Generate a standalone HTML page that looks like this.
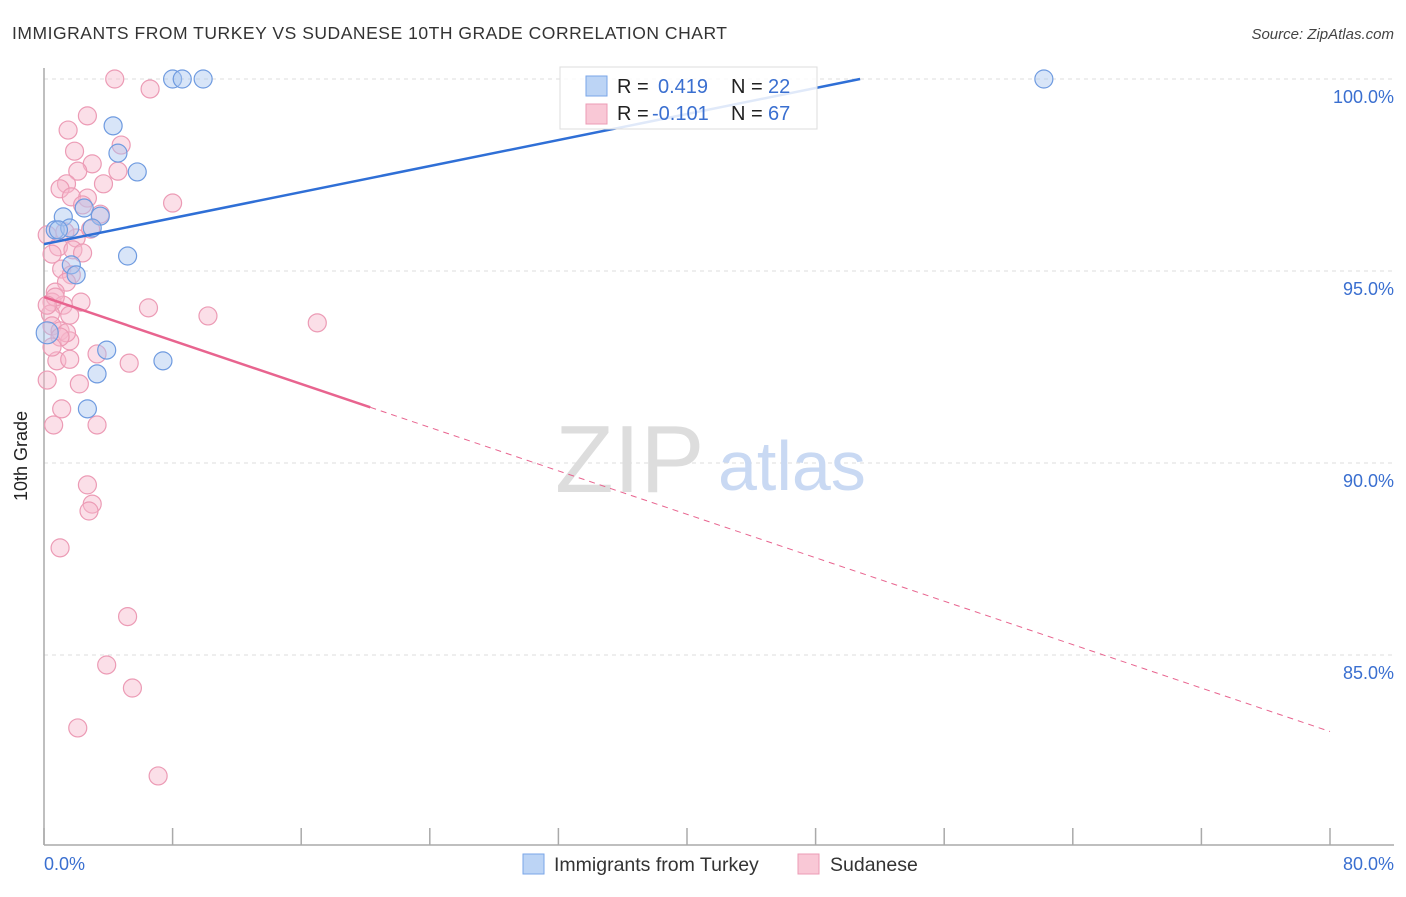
<!DOCTYPE html>
<html><head><meta charset="utf-8"><style>
body{margin:0;background:#fff;font-family:"Liberation Sans",sans-serif}
svg text{font-family:"Liberation Sans",sans-serif}
</style></head><body>
<svg width="1406" height="892" xmlns="http://www.w3.org/2000/svg">
<text x="12" y="39" font-size="17.5" fill="#333" textLength="715">IMMIGRANTS FROM TURKEY VS SUDANESE 10TH GRADE CORRELATION CHART</text>
<text x="1394" y="39" font-size="15" fill="#444" font-style="italic" text-anchor="end">Source: ZipAtlas.com</text>
<g id="grid"></g>
<line x1="44" y1="68" x2="44" y2="845" stroke="#aaa" stroke-width="1.5"/>
<line x1="44" y1="845" x2="1394" y2="845" stroke="#aaa" stroke-width="1.5"/>
<g id="xticks"></g>
<text x="27" y="456" font-size="18" fill="#222" text-anchor="middle" transform="rotate(-90 27 456)">10th Grade</text>
<text x="44" y="870" font-size="18" fill="#3a6fd0">0.0%</text>
<text x="1394" y="870" font-size="18" fill="#3a6fd0" text-anchor="end">80.0%</text>
<text x="555" y="492" font-size="96" fill="#ddd" font-family="Liberation Serif">ZIP</text>
<text x="718" y="490" font-size="70" fill="#c9d9f3">atlas</text>
<g id="pts"></g>
<g id="lines"></g>
<g>
<rect x="560" y="67" width="257" height="62" fill="#fff" fill-opacity="0.85" stroke="#ddd"/>
<rect x="586" y="76" width="21" height="20" fill="#bcd4f5" stroke="#7aa6e8"/>
<rect x="586" y="104" width="21" height="20" fill="#f9c8d6" stroke="#ec9bb5"/>
<text x="617" y="93" font-size="20" fill="#222">R = </text><text x="658" y="93" font-size="20" fill="#3a6fd0">0.419</text>
<text x="731" y="93" font-size="20" fill="#222">N = </text><text x="768" y="93" font-size="20" fill="#3a6fd0">22</text>
<text x="617" y="120" font-size="20" fill="#222">R = </text><text x="652" y="120" font-size="20" fill="#3a6fd0">-0.101</text>
<text x="731" y="120" font-size="20" fill="#222">N = </text><text x="768" y="120" font-size="20" fill="#3a6fd0">67</text>
</g>
<g>
<rect x="523" y="854" width="21" height="20" fill="#bcd4f5" stroke="#7aa6e8"/>
<text x="554" y="871" font-size="19.5" fill="#333">Immigrants from Turkey</text>
<rect x="798" y="854" width="21" height="20" fill="#f9c8d6" stroke="#ec9bb5"/>
<text x="830" y="871" font-size="19.5" fill="#333">Sudanese</text>
</g>
</svg>
<script>
const yTicks=[100,95,90,85];
const yTickLabels=["100.0%","95.0%","90.0%","85.0%"];
const xTicks=[0,8,16,24,32,40,48,56,64,72,80];
const turkeyX=[8.0,8.6,9.9,62.2,4.3,4.6,5.8,0.7,1.2,1.6,2.5,3.5,3.0,5.2,1.7,2.0,3.9,3.3,7.4,2.7,0.2,0.9];
const turkeyY=[100,100,100,100,98.78,98.07,97.58,96.07,96.41,96.12,96.64,96.43,96.12,95.39,95.16,94.9,92.94,92.32,92.66,91.41,93.39,96.07];
const sudX=[4.4,6.6,2.7,1.5,1.9,4.8,3.0,2.1,4.6,1.4,1.0,3.7,2.7,1.7,2.4,3.5,8.0,2.0,1.3,2.9,0.2,0.9,1.8,2.4,0.5,1.1,1.7,1.4,0.7,0.5,2.3,1.2,1.6,0.4,6.5,10.2,17.0,0.5,1.0,1.6,1.4,3.3,5.3,0.8,0.2,2.2,1.1,0.6,3.3,2.7,3.0,2.8,1.0,5.2,3.9,5.5,2.1,7.1,0.7,0.2,1.0,0.5,1.6];
const sudY=[100,99.74,99.04,98.67,98.12,98.28,97.79,97.6,97.6,97.27,97.14,97.27,96.9,96.93,96.72,96.48,96.77,95.86,96.02,96.09,95.94,95.63,95.55,95.47,95.44,95.05,94.9,94.71,94.45,94.19,94.19,94.11,93.85,93.88,94.04,93.83,93.65,93.57,93.44,93.18,93.39,92.84,92.6,92.66,92.16,92.06,91.41,90.99,90.99,89.43,88.93,88.75,87.79,86.0,84.74,84.14,83.1,81.85,94.32,94.11,93.28,93.02,92.7];
const turkeyFit=[95.7,0.0847];   // intercept, slope per %
const sudFit=[94.32,-0.1414];
const NS="http://www.w3.org/2000/svg";
const X=v=>44+v*16.075, Y=v=>79+(100-v)*38.4;
function mk(t,a,p){const e=document.createElementNS(NS,t);for(const k in a)e.setAttribute(k,a[k]);p.appendChild(e);return e;}
const grid=document.getElementById('grid');
yTicks.forEach((t,i)=>{
 const l=mk('line',{x1:44,x2:1394,y1:Y(t),y2:Y(t),stroke:'#ddd','stroke-dasharray':'4,4'},grid);
 
 
 const tx=mk('text',{x:1394,y:Y(t)+24,'font-size':18,fill:'#3a6fd0','text-anchor':'end'},grid);
 tx.textContent=yTickLabels[i];
 
 
});
const xt=document.getElementById('xticks');
xTicks.forEach(t=>{
 const l=mk('line',{x1:X(t),x2:X(t),y1:828,y2:845,stroke:'#aaa','stroke-width':1.5},xt);
 
 
});
const pts=document.getElementById('pts');
sudX.forEach((x,i)=>{
 const c=mk('circle',{cx:X(x),cy:Y(sudY[i]),r:9,fill:'#f7b8cc','fill-opacity':0.45,stroke:'#ec9bb5','stroke-width':1.2},pts);
 
 
});
turkeyX.forEach((x,i)=>{
 const c=mk('circle',{cx:X(x),cy:Y(turkeyY[i]),r:i==20?11:9,fill:'#a8c6f0','fill-opacity':0.45,stroke:'#6f9be0','stroke-width':1.2},pts);
 
 
});
const lg=document.getElementById('lines');
const tEnd=(100-turkeyFit[0])/turkeyFit[1];
let l1=mk('line',{x1:X(0),y1:Y(turkeyFit[0]),x2:X(tEnd),y2:Y(100),stroke:'#2f6fd6','stroke-width':2.5},lg);


const sf=x=>sudFit[0]+sudFit[1]*x;
let l2=mk('line',{x1:X(0),y1:Y(sf(0)),x2:X(20.3),y2:Y(sf(20.3)),stroke:'#e8648f','stroke-width':2.5},lg);


let l3=mk('line',{x1:X(20.3),y1:Y(sf(20.3)),x2:X(80),y2:Y(sf(80)),stroke:'#e8648f','stroke-width':1,'stroke-dasharray':'6,5'},lg);


</script>
</body></html>
